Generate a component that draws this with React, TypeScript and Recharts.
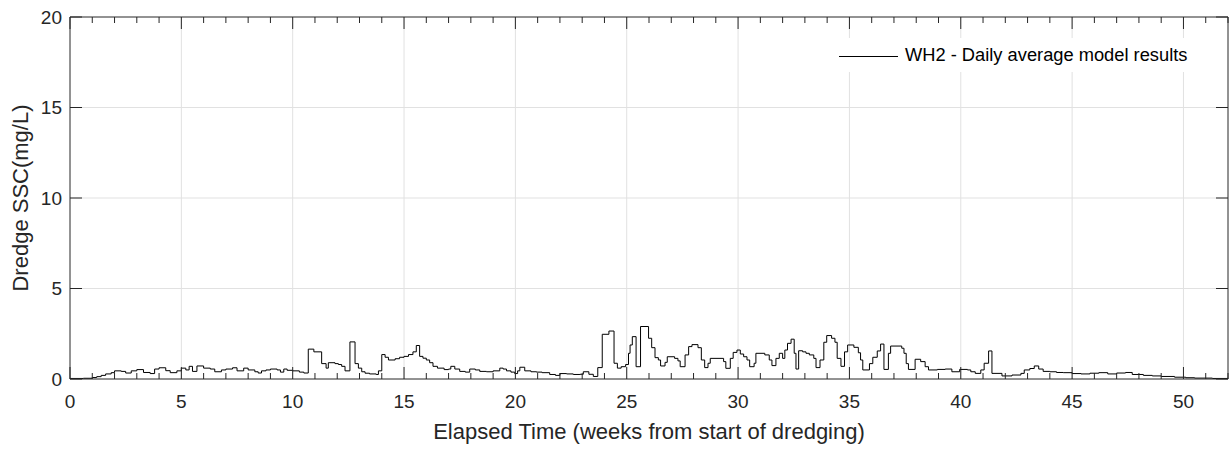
import React from 'react';
import { LineChart, Line, XAxis, YAxis, ReferenceLine } from 'recharts';

// step start (weeks from start of dredging) and daily-average SSC (mg/L)
const weeks = [
  0.0, 0.6, 1.0, 1.2, 1.4, 1.6, 1.85, 2.0, 2.3, 2.5, 2.75, 3.0, 3.3, 3.6, 3.8, 4.0, 4.3, 4.5, 4.8,
  5.0, 5.2, 5.35, 5.5, 5.7, 6.0, 6.3, 6.5, 6.8, 7.0, 7.3, 7.5, 7.8, 8.0, 8.3, 8.45, 8.6, 8.8,
  9.0, 9.3, 9.45, 9.6, 9.75, 10.0, 10.3, 10.5, 10.7, 10.95, 11.3, 11.5, 11.6, 11.9, 12.05, 12.2,
  12.35, 12.57, 12.8, 12.95, 13.1, 13.25, 13.45, 13.75, 13.85, 14.0, 14.15, 14.3, 14.6, 14.8,
  15.0, 15.2, 15.4, 15.55, 15.7, 15.85, 16.0, 16.15, 16.3, 16.5, 16.8, 17.0, 17.1, 17.28, 17.5,
  17.75, 17.95, 18.2, 18.4, 18.7, 19.0, 19.3, 19.45, 19.6, 19.8, 19.97, 20.1, 20.2, 20.42, 20.7,
  20.95, 21.2, 21.54, 21.8, 22.0, 22.3, 22.6, 22.9, 23.05, 23.3, 23.5, 23.7, 23.9, 24.2, 24.43,
  24.58, 24.75, 24.95, 25.08, 25.15, 25.25, 25.42, 25.62, 25.98, 26.12, 26.27, 26.42, 26.52,
  26.72, 26.82, 27.15, 27.3, 27.4, 27.62, 27.78, 27.93, 28.2, 28.35, 28.5, 28.65, 28.75, 29.35,
  29.45, 29.65, 29.78, 29.95, 30.1, 30.25, 30.4, 30.52, 30.72, 30.8, 31.2, 31.4, 31.52, 31.7,
  31.85, 32.0, 32.1, 32.22, 32.38, 32.52, 32.6, 32.72, 32.9, 33.05, 33.2, 33.4, 33.5, 33.68,
  33.85, 33.98, 34.2, 34.35, 34.45, 34.62, 34.78, 34.92, 35.2, 35.4, 35.5, 35.6, 35.9, 36.05,
  36.25, 36.4, 36.55, 36.75, 36.85, 37.35, 37.45, 37.55, 37.65, 37.95, 38.2, 38.4, 38.55, 38.95,
  39.3, 39.6, 39.95, 40.3, 40.45, 40.65, 40.9, 41.05, 41.25, 41.4, 41.85, 42.3, 42.7, 42.85,
  43.1, 43.3, 43.5, 43.7, 44.0, 44.3, 44.6, 45.0, 45.4, 45.8, 46.2, 46.6, 47.0, 47.4, 47.7,
  48.2, 48.6, 49.0, 49.6, 50.1, 50.5, 51.3, 52.0,
];
const ssc = [
  0.03, 0.04, 0.08, 0.13, 0.2, 0.28, 0.35, 0.45, 0.42, 0.33, 0.45, 0.52, 0.36, 0.3, 0.55, 0.62, 0.46, 0.35, 0.45,
  0.6, 0.5, 0.7, 0.42, 0.72, 0.6, 0.55, 0.4, 0.5, 0.55, 0.62, 0.45, 0.6, 0.5, 0.4, 0.33, 0.45, 0.5,
  0.55, 0.5, 0.38, 0.55, 0.48, 0.45, 0.38, 0.33, 1.65, 1.5, 0.85, 0.6, 0.9, 0.85, 0.8, 0.7,
  0.45, 2.05, 0.85, 0.6, 0.4, 0.32, 0.28, 0.25, 0.45, 1.35, 1.2, 1.05, 1.12, 1.2,
  1.25, 1.35, 1.5, 1.85, 1.25, 1.15, 1.05, 0.9, 0.7, 0.6, 0.52, 0.55, 0.7, 0.55, 0.42,
  0.38, 0.55, 0.5, 0.42, 0.4, 0.45, 0.6, 0.55, 0.45, 0.38, 0.3, 0.45, 0.65, 0.45, 0.4,
  0.38, 0.35, 0.25, 0.2, 0.3, 0.28, 0.25, 0.26, 0.4, 0.26, 0.14, 0.63, 2.47, 2.65, 0.87,
  0.6, 0.68, 0.8, 1.42, 1.88, 2.34, 0.68, 2.9, 2.25, 1.73, 1.18, 1.05, 0.72,
  0.92, 1.23, 1.14, 1.0, 0.68, 1.33, 1.79, 1.9, 1.73, 1.05, 0.63, 0.87, 1.14, 0.96,
  0.59, 1.14, 1.47, 1.6, 1.38, 1.23, 1.05, 0.68, 0.87, 1.42, 1.33, 1.05, 0.74, 1.14,
  1.42, 1.14, 1.6, 1.97, 2.2, 1.42, 0.55, 1.56, 1.5, 1.42, 1.33, 1.14, 0.63, 1.05,
  2.03, 2.4, 2.25, 2.03, 1.14, 0.7, 1.5, 1.88, 1.75, 1.45, 1.05, 0.5, 0.85, 1.2,
  1.55, 1.93, 0.53, 1.42, 1.82, 1.7, 1.42, 0.85, 0.53, 1.09, 0.96, 0.68, 0.5, 0.53,
  0.55, 0.4, 0.53, 0.5, 0.4, 0.31, 0.5, 0.87, 1.55, 0.31, 0.17, 0.22, 0.31, 0.5,
  0.58, 0.72, 0.55, 0.42, 0.4, 0.36, 0.35, 0.3, 0.28, 0.32, 0.35, 0.28, 0.33, 0.36, 0.25,
  0.2, 0.17, 0.14, 0.1, 0.07, 0.05, 0.03, 0.03,
];

const xTicks = Array.from({ length: 53 }, (_, i) => i);
const xMajor = [5, 10, 15, 20, 25, 30, 35, 40, 45, 50];
const yTicks = [0, 5, 10, 15, 20];
const yGrid = [5, 10, 15];
const seriesName = 'WH2 - Daily average model results';

const data = weeks.map((w, i) => ({ week: w, ssc: ssc[i] }));

const FONT = '"Liberation Sans", Arial, sans-serif';
const AXIS = '#262626';
const GRID = '#e1e1e1';
const PLOT_TOP = 17;
const PLOT_BOTTOM = 379;
const PLOT_LEFT = 70;
const PLOT_RIGHT = 1228;

const XTick = (props: any) => {
  const { x, payload } = props;
  const v = payload.value;
  const major = v % 5 === 0;
  const len = major ? 12 : 6;
  return (
    <g>
      <line x1={x} x2={x} y1={PLOT_BOTTOM} y2={PLOT_BOTTOM - len} stroke={AXIS} />
      <line x1={x} x2={x} y1={PLOT_TOP} y2={PLOT_TOP + len} stroke={AXIS} />
      {major && v <= 50 && (
        <text x={x} y={PLOT_BOTTOM + 29} textAnchor="middle" fill={AXIS} fontSize={19} fontFamily={FONT}>
          {v}
        </text>
      )}
    </g>
  );
};

const YTick = (props: any) => {
  const { y, payload } = props;
  return (
    <g>
      <line x1={PLOT_LEFT} x2={PLOT_LEFT + 12} y1={y} y2={y} stroke={AXIS} />
      <line x1={PLOT_RIGHT} x2={PLOT_RIGHT - 12} y1={y} y2={y} stroke={AXIS} />
      <text x={PLOT_LEFT - 8} y={y} dy="0.35em" textAnchor="end" fill={AXIS} fontSize={19} fontFamily={FONT}>
        {payload.value}
      </text>
    </g>
  );
};

// legend drawn as an overlay so it does not take space from the plot
const LegendBox = () => (
  <div
    style={{
      position: 'absolute', left: 832, top: 38, width: 370, height: 34,
      background: '#fff', fontFamily: FONT, fontSize: 18.3, color: '#000',
    }}
  >
    <div style={{ position: 'absolute', left: 7, top: 18, width: 59, borderTop: '1px solid #000' }} />
    <span style={{ position: 'absolute', left: 73, top: 7, lineHeight: '20px', whiteSpace: 'nowrap' }}>{seriesName}</span>
  </div>
);

export default function App() {
  return (
    <div style={{ position: 'absolute', left: 0, top: 0, width: 1229, height: 450, background: '#fff' }}>
      <LineChart width={1229} height={450} data={data} margin={{ top: PLOT_TOP, right: 1, bottom: 0, left: 0 }}>
        {xMajor.map((w) => (
          <ReferenceLine key={'gx' + w} x={w} stroke={GRID} strokeWidth={1} />
        ))}
        {yGrid.map((v) => (
          <ReferenceLine key={'gy' + v} y={v} stroke={GRID} strokeWidth={1} />
        ))}
        <XAxis
          dataKey="week"
          type="number"
          domain={[0, 52]}
          ticks={xTicks}
          interval={0}
          height={71}
          tickLine={false}
          axisLine={{ stroke: AXIS }}
          tick={<XTick />}
          label={{ value: 'Elapsed Time (weeks from start of dredging)', position: 'insideBottom', offset: 11, fill: AXIS, fontSize: 22, fontFamily: FONT }}
        />
        <YAxis
          type="number"
          domain={[0, 20]}
          ticks={yTicks}
          interval={0}
          width={70}
          tickLine={false}
          axisLine={{ stroke: AXIS }}
          tick={<YTick />}
          label={{ value: 'Dredge SSC(mg/L)', angle: -90, position: 'insideLeft', offset: 20, fill: AXIS, fontSize: 22, fontFamily: FONT, style: { textAnchor: 'middle' } }}
        />
        <ReferenceLine y={20} stroke={AXIS} strokeWidth={1} />
        <ReferenceLine x={52} stroke={AXIS} strokeWidth={1} />
        <Line
          type="stepAfter"
          dataKey="ssc"
          name={seriesName}
          stroke="#000"
          strokeWidth={1}
          dot={false}
          isAnimationActive={false}
        />
      </LineChart>
      <LegendBox />
    </div>
  );
}
